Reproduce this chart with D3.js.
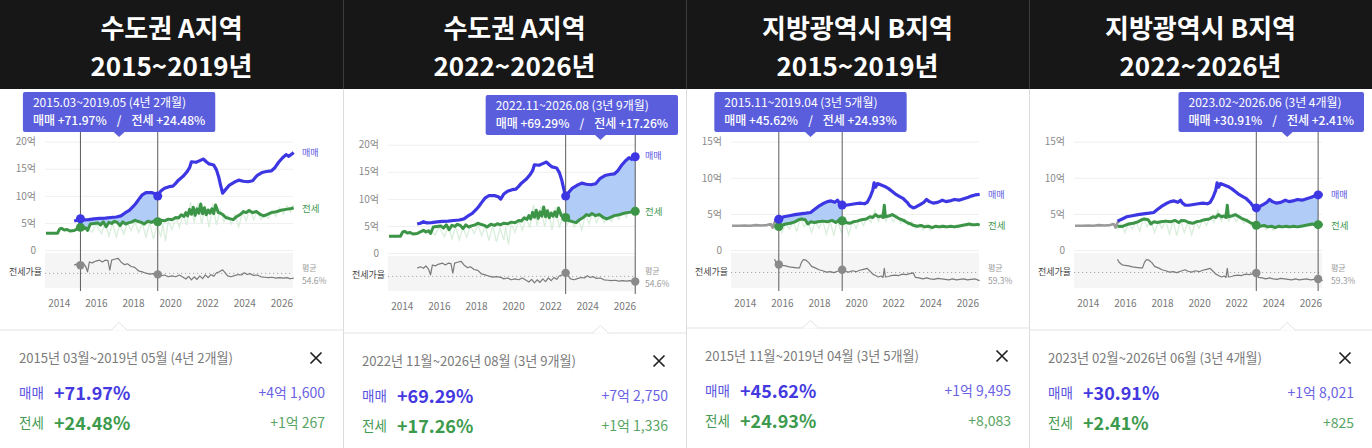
<!DOCTYPE html>
<html><head><meta charset="utf-8">
<script src="https://cdn.jsdelivr.net/npm/d3@7"></script>
<style>
html,body{margin:0;padding:0;background:#fff;}
svg{display:block;font-family:"Noto Sans CJK KR","Noto Sans",sans-serif;}
</style></head><body>
<svg id="c" width="1372" height="448"></svg>
<script>
// ---------------- DATA ----------------
const panelTitles = ["수도권 A지역", "수도권 A지역", "지방광역시 B지역", "지방광역시 B지역"];
const panelYears  = ["2015~2019년", "2022~2026년", "2015~2019년", "2022~2026년"];
const panelRegion = ["A", "A", "B", "B"];
const periodStart = [[2015, 3], [2022, 11], [2015, 11], [2023, 2]];
const periodEnd   = [[2019, 5], [2026, 8], [2019, 4], [2026, 6]];
const salePct    = ["+71.97%", "+69.29%", "+45.62%", "+30.91%"];
const jeonsePct  = ["+24.48%", "+17.26%", "+24.93%", "+2.41%"];
const saleAmt    = ["+4억 1,600", "+7억 2,750", "+1억 9,495", "+1억 8,021"];
const jeonseAmt  = ["+1억 267", "+1억 1,336", "+8,083", "+825"];
const avgRatioA = 54.6, avgRatioB = 59.3;
const yearTicks = [2014, 2016, 2018, 2020, 2022, 2024, 2026];
const yTicksA = [0, 5, 10, 15, 20];
const yTicksB = [0, 5, 10, 15];

// Region A (억원), [year, value]
const saleA = [[2014.83,5.35],[2015.0,5.5],[2015.17,5.78],[2015.35,5.55],[2015.6,5.6],[2015.9,5.75],[2016.2,5.85],[2016.5,5.9],[2016.8,6.0],[2017.1,6.1],[2017.35,6.3],[2017.55,6.8],[2017.8,7.3],[2018.0,8.0],[2018.15,8.6],[2018.3,9.3],[2018.5,10.2],[2018.7,10.6],[2019.0,10.6],[2019.2,10.4],[2019.33,9.94],[2019.5,10.9],[2019.7,11.4],[2019.95,11.7],[2020.15,11.8],[2020.3,12.3],[2020.45,12.9],[2020.7,13.6],[2020.9,14.4],[2021.05,15.2],[2021.15,16.3],[2021.4,16.2],[2021.6,16.5],[2021.8,16.8],[2021.95,16.3],[2022.1,15.9],[2022.35,15.7],[2022.5,14.8],[2022.62,13.5],[2022.72,12.0],[2022.83,10.5],[2023.0,11.2],[2023.2,12.0],[2023.45,12.5],[2023.7,12.9],[2023.95,12.7],[2024.2,12.6],[2024.45,12.8],[2024.7,13.8],[2024.95,14.3],[2025.2,14.5],[2025.45,14.6],[2025.65,15.2],[2025.85,16.2],[2026.05,17.0],[2026.25,17.6],[2026.4,17.3],[2026.58,17.77],[2026.66,18.0]];
const jeonseA = [[2013.31,3.08],[2013.6,3.08],[2013.93,3.1],[2014.05,3.9],[2014.15,4.0],[2014.3,3.7],[2014.45,3.8],[2014.6,3.5],[2014.83,3.6],[2015.0,3.9],[2015.17,4.19],[2015.3,3.9],[2015.45,4.1],[2015.55,3.6],[2015.7,4.8],[2015.9,4.9],[2016.1,5.0],[2016.25,4.6],[2016.4,5.2],[2016.55,4.3],[2016.7,5.1],[2016.85,4.9],[2017.0,5.3],[2017.15,5.1],[2017.3,4.5],[2017.45,5.2],[2017.6,4.8],[2017.75,5.0],[2017.95,5.2],[2018.1,5.5],[2018.25,5.3],[2018.45,5.1],[2018.6,4.8],[2018.8,5.3],[2019.0,5.1],[2019.15,5.4],[2019.33,5.22],[2019.5,5.5],[2019.7,5.4],[2019.9,5.7],[2020.1,5.6],[2020.3,6.0],[2020.45,5.9],[2020.6,6.5],[2020.75,6.2],[2020.85,6.9],[2020.95,6.3],[2021.05,7.5],[2021.15,6.6],[2021.25,7.9],[2021.35,6.4],[2021.45,7.6],[2021.55,6.8],[2021.65,8.5],[2021.75,6.7],[2021.85,7.8],[2021.95,6.5],[2022.05,7.4],[2022.15,6.8],[2022.25,7.6],[2022.35,6.7],[2022.45,8.3],[2022.6,6.9],[2022.72,6.8],[2022.83,6.57],[2023.0,6.0],[2023.2,5.8],[2023.4,5.6],[2023.6,6.2],[2023.8,6.6],[2023.95,7.1],[2024.1,6.9],[2024.25,7.3],[2024.45,6.9],[2024.65,7.1],[2024.85,6.6],[2025.05,6.3],[2025.25,6.6],[2025.45,6.9],[2025.65,7.0],[2025.85,7.2],[2026.05,7.4],[2026.25,7.5],[2026.45,7.6],[2026.58,7.70],[2026.66,7.8]];
const rawA = [[2015.5,4.2],[2015.8,3.3],[2016.0,4.8],[2016.3,3.0],[2016.5,5.0],[2016.7,2.6],[2016.9,4.9],[2017.1,2.4],[2017.3,4.8],[2017.5,2.9],[2017.7,5.0],[2017.9,3.6],[2018.1,5.2],[2018.3,3.2],[2018.5,5.0],[2018.7,2.3],[2018.9,5.1],[2019.1,2.0],[2019.3,4.6],[2019.5,2.4],[2019.6,4.8],[2019.75,1.6],[2019.9,5.4],[2020.1,3.8],[2020.3,6.0],[2020.5,4.2],[2020.7,6.6],[2020.9,4.6],[2021.1,8.9],[2021.3,5.0],[2021.5,8.6],[2021.7,4.8],[2021.9,8.2],[2022.1,4.2],[2022.3,8.5],[2022.5,4.6],[2022.7,7.5],[2022.9,5.2],[2023.1,6.4],[2023.3,4.8],[2023.5,6.5],[2023.7,4.3],[2023.9,7.0],[2024.1,5.4],[2024.3,7.6],[2024.5,5.6],[2024.7,7.2],[2024.9,5.6],[2025.1,6.6],[2025.3,5.8],[2025.5,7.3],[2025.7,6.2],[2025.9,7.8],[2026.1,6.6],[2026.3,8.2],[2026.5,7.0],[2026.66,8.3]];
const ratioA = [[2014.83,73],[2015.0,76],[2015.17,72.6],[2015.3,78],[2015.45,70],[2015.55,58],[2015.65,80],[2015.8,78],[2016.0,82],[2016.2,84],[2016.35,80],[2016.5,84],[2016.65,83],[2016.75,62],[2016.85,84],[2017.0,86],[2017.2,88],[2017.35,80],[2017.55,74],[2017.7,76],[2017.9,70],[2018.1,68],[2018.3,60],[2018.5,58],[2018.7,55],[2018.9,53],[2019.1,54],[2019.33,52.5],[2019.5,49],[2019.7,51],[2019.9,47],[2020.1,49],[2020.3,47],[2020.5,51],[2020.7,46],[2020.85,42],[2021.0,48],[2021.15,40],[2021.3,47],[2021.45,41],[2021.6,49],[2021.75,43],[2021.9,51],[2022.05,45],[2022.2,52],[2022.35,48],[2022.5,56],[2022.65,58],[2022.83,62.5],[2022.95,57],[2023.1,49],[2023.3,47],[2023.5,50],[2023.7,52],[2023.85,51],[2024.0,56],[2024.15,52],[2024.3,54],[2024.5,50],[2024.7,51],[2024.9,47],[2025.1,46],[2025.3,45],[2025.5,46],[2025.7,44],[2025.9,45],[2026.1,44],[2026.3,45],[2026.45,43],[2026.58,43.3],[2026.66,44]];

// Region B
const preB = [[2013.31,3.35],[2013.7,3.35],[2014.0,3.4],[2014.3,3.35],[2014.6,3.45],[2014.9,3.4],[2015.2,3.45],[2015.4,3.6],[2015.5,3.1],[2015.6,3.8],[2015.7,4.0]];
const saleB = [[2015.6,4.0],[2015.83,4.27],[2016.1,4.6],[2016.4,4.75],[2016.7,4.9],[2017.0,5.0],[2017.3,5.1],[2017.55,5.2],[2017.75,5.6],[2017.95,6.0],[2018.2,6.4],[2018.45,6.7],[2018.65,6.8],[2018.85,6.6],[2019.0,6.9],[2019.1,6.5],[2019.25,6.22],[2019.45,6.2],[2019.7,6.3],[2019.95,6.4],[2020.2,6.5],[2020.45,6.4],[2020.6,6.6],[2020.75,7.3],[2020.9,8.3],[2020.97,9.3],[2021.05,8.7],[2021.15,9.2],[2021.35,9.0],[2021.55,8.8],[2021.75,8.5],[2021.95,8.1],[2022.15,7.7],[2022.35,7.4],[2022.55,7.1],[2022.75,6.6],[2022.9,6.1],[2023.08,5.83],[2023.25,6.0],[2023.45,6.3],[2023.65,6.6],[2023.8,7.0],[2023.95,6.7],[2024.15,6.5],[2024.4,6.6],[2024.65,6.9],[2024.85,6.7],[2025.05,6.8],[2025.3,7.0],[2025.55,6.9],[2025.8,7.1],[2026.05,7.3],[2026.25,7.5],[2026.42,7.63],[2026.66,7.7]];
const jeonseB = [[2015.6,3.3],[2015.83,3.24],[2016.0,3.4],[2016.2,3.6],[2016.45,3.7],[2016.7,3.9],[2016.9,4.2],[2017.05,4.3],[2017.25,4.2],[2017.4,3.6],[2017.55,3.9],[2017.75,3.8],[2017.95,3.9],[2018.2,4.0],[2018.45,3.9],[2018.7,4.1],[2018.9,3.8],[2019.05,4.1],[2019.25,4.05],[2019.45,3.8],[2019.65,3.7],[2019.85,3.9],[2020.05,4.0],[2020.3,4.2],[2020.55,4.3],[2020.75,4.6],[2020.9,4.5],[2021.05,4.9],[2021.2,4.6],[2021.35,4.7],[2021.45,4.5],[2021.52,6.2],[2021.58,4.6],[2021.75,4.7],[2021.95,4.9],[2022.15,4.6],[2022.35,4.3],[2022.55,4.1],[2022.75,3.8],[2022.95,3.6],[2023.08,3.42],[2023.3,3.3],[2023.5,3.4],[2023.7,3.2],[2023.9,3.3],[2024.1,3.1],[2024.3,3.3],[2024.5,3.2],[2024.7,3.3],[2024.9,3.2],[2025.1,3.3],[2025.3,3.2],[2025.5,3.3],[2025.7,3.4],[2025.9,3.5],[2026.1,3.6],[2026.25,3.5],[2026.42,3.506],[2026.55,3.55],[2026.66,3.45]];
const rawB = [[2015.6,2.8],[2015.8,3.6],[2016.0,2.4],[2016.2,3.7],[2016.4,2.9],[2016.6,3.9],[2016.8,2.6],[2017.0,4.4],[2017.2,3.2],[2017.4,4.0],[2017.6,2.4],[2017.8,3.9],[2018.0,3.0],[2018.2,4.1],[2018.4,2.2],[2018.6,4.0],[2018.8,2.0],[2019.0,4.2],[2019.2,2.4],[2019.4,3.9],[2019.6,2.1],[2019.8,3.9],[2020.0,3.0],[2020.2,4.3],[2020.4,3.4],[2020.6,4.6],[2020.8,3.8],[2021.0,5.5],[2021.2,4.0],[2021.4,5.2],[2021.6,4.0],[2021.8,5.0],[2022.0,3.9],[2022.2,4.8],[2022.4,3.7],[2022.6,4.3],[2022.8,3.4],[2023.0,3.9],[2023.2,3.0],[2023.4,3.6],[2023.6,2.8],[2023.8,3.6],[2024.0,2.7],[2024.2,3.4],[2024.4,3.0],[2024.6,3.5],[2024.8,3.0],[2025.0,3.4],[2025.2,3.1],[2025.4,3.5],[2025.6,3.2],[2025.8,3.6],[2026.0,3.3],[2026.2,3.7],[2026.4,3.4],[2026.66,3.6]];
const ratioB = [[2015.6,87],[2015.7,80],[2015.83,75.9],[2016.0,74],[2016.2,73],[2016.4,71],[2016.6,70],[2016.8,69],[2016.95,69],[2017.05,80],[2017.15,86],[2017.3,85],[2017.45,80],[2017.6,72],[2017.8,69],[2018.0,65],[2018.2,63],[2018.4,60],[2018.6,61],[2018.8,59],[2019.0,62],[2019.25,65.1],[2019.4,62],[2019.6,60],[2019.8,63],[2020.0,61],[2020.2,64],[2020.4,66],[2020.6,68],[2020.75,62],[2020.9,56],[2021.05,53],[2021.2,50],[2021.35,52],[2021.45,49],[2021.52,68],[2021.58,50],[2021.75,51],[2021.9,53],[2022.1,54],[2022.3,53],[2022.5,56],[2022.7,55],[2022.9,57],[2023.08,58.7],[2023.2,49],[2023.4,48],[2023.6,46],[2023.8,48],[2024.0,46],[2024.2,45],[2024.4,47],[2024.6,46],[2024.8,45],[2025.0,44],[2025.2,46],[2025.4,44],[2025.6,45],[2025.8,46],[2026.0,44],[2026.2,45],[2026.42,45.9],[2026.55,44],[2026.66,42]];

// ---------------- BUILD ----------------
const regions = {
  A: {sale: saleA, jeonse: jeonseA, raw: rawA, ratio: ratioA, pre: null, yTicks: yTicksA, avg: avgRatioA, rMin: 22},
  B: {sale: saleB, jeonse: jeonseB, raw: rawB, ratio: ratioB, pre: preB, yTicks: yTicksB, avg: avgRatioB, rMin: 27}
};
const W = 343;
const chartDy = [0, 3, 0, 0];
const cardDy = [0, 3, -2, 0];
const plotL = 45, plotR = 293;
const C = {sale: "#3d36e3", jeonse: "#3c9447", raw: "#d9eedc", fill: "#a9c8f6", ratio: "#7a7a7a",
  saleTxt: "#5a55e0", jeonseTxt: "#449a52"};

function interp(s, t) {
  if (t <= s[0][0]) return s[0][1];
  for (let i = 1; i < s.length; i++) {
    if (t <= s[i][0]) { const [t0, v0] = s[i-1], [t1, v1] = s[i]; return v0 + (v1 - v0) * (t - t0) / (t1 - t0); }
  }
  return s[s.length-1][1];
}
const pad = n => String(n).padStart(2, "0");

const svg = d3.select("#c");
svg.append("rect").attr("width", 1372).attr("height", 448).attr("fill", "#fff");
svg.append("rect").attr("width", 1372).attr("height", 89).attr("fill", "#171717");

for (let i = 0; i < 4; i++) {
  const R = regions[panelRegion[i]];
  const g = svg.append("g").attr("transform", `translate(${i*W},0)`);

  // title (two lines)
  const tt = g.append("text").attr("text-anchor", "middle").attr("fill", "#fff")
    .attr("font-size", 26).attr("font-weight", 700);
  tt.append("tspan").attr("x", 171.5).attr("y", 38).text(panelTitles[i]);
  tt.append("tspan").attr("x", 171.5).attr("y", 76).text(panelYears[i]);

  const c = g.append("g").attr("transform", `translate(0,${chartDy[i]})`);
  const x = d3.scaleLinear().domain([2014, 2026]).range([58.8, 281.4]);
  const yMax = R.yTicks[R.yTicks.length-1];
  const y = d3.scaleLinear().domain([0, yMax]).range([250, 141.7]);
  const r = d3.scaleLinear().domain([R.rMin, 100]).range([288, 253]);

  // y axis with gridlines
  const ya = c.append("g").attr("transform", `translate(${plotL},0)`)
    .call(d3.axisLeft(y).tickValues(R.yTicks).tickSizeInner(-(plotR - plotL)).tickSizeOuter(0).tickPadding(9)
      .tickFormat(d => d === 0 ? "0" : d + "억"));
  ya.select(".domain").remove();
  ya.selectAll("line").attr("stroke", "#efefef");
  ya.selectAll("text").attr("fill", "#8a8a8a").attr("font-size", 10).attr("font-family", "Noto Sans CJK KR");

  // ratio band
  c.append("rect").attr("x", plotL).attr("y", 253).attr("width", plotR - plotL).attr("height", 35).attr("fill", "#f5f5f5");
  c.append("line").attr("x1", plotL).attr("x2", plotR).attr("y1", r(R.avg)).attr("y2", r(R.avg))
    .attr("stroke", "#aaa").attr("stroke-width", 1).attr("stroke-dasharray", "1.2,2.8");

  const line = d3.line().x(d => x(d[0])).y(d => y(d[1]));
  const rline = d3.line().x(d => x(d[0])).y(d => r(d[1]));

  // raw faint jeonse
  c.append("path").attr("d", line(R.raw)).attr("fill", "none").attr("stroke", C.raw).attr("stroke-width", 1.3);

  // highlight area
  const t0 = periodStart[i][0] + (periodStart[i][1] - 1) / 12;
  const t1 = periodEnd[i][0] + (periodEnd[i][1] - 1) / 12;
  const ts = Array.from(new Set([t0, t1, ...R.sale.map(d => d[0]), ...R.jeonse.map(d => d[0])]))
    .filter(t => t >= t0 - 1e-9 && t <= t1 + 1e-9).sort((a, b) => a - b);
  const areaData = ts.map(t => ({t, hi: interp(R.sale, t), lo: interp(R.jeonse, t)}));
  c.append("path").attr("d", d3.area().x(d => x(d.t)).y0(d => y(d.lo)).y1(d => y(d.hi))(areaData))
    .attr("fill", C.fill).attr("opacity", 0.9);

  if (R.pre) c.append("path").attr("d", line(R.pre)).attr("fill", "none").attr("stroke", "#9a9a9a").attr("stroke-width", 2.6).attr("stroke-linejoin", "round");
  c.append("path").attr("d", line(R.jeonse)).attr("fill", "none").attr("stroke", C.jeonse).attr("stroke-width", 3).attr("stroke-linejoin", "round");
  c.append("path").attr("d", line(R.sale)).attr("fill", "none").attr("stroke", C.sale).attr("stroke-width", 3.2).attr("stroke-linejoin", "round");
  c.append("path").attr("d", rline(R.ratio)).attr("fill", "none").attr("stroke", C.ratio).attr("stroke-width", 1.2).attr("stroke-linejoin", "round");

  // tooltip box
  const px = (x(t0) + x(t1)) / 2;
  const by = 92;
  const tipG = c.append("g");
  const dur = (periodEnd[i][0]*12 + periodEnd[i][1]) - (periodStart[i][0]*12 + periodStart[i][1]);
  const durTxt = `${Math.floor(dur/12)}년 ${dur%12}개월`;
  const tipRect = tipG.append("rect").attr("y", by).attr("height", 40).attr("rx", 2).attr("fill", "#5a5edc");
  tipG.append("path").attr("fill", "#5a5edc").attr("d", `M${px-6},${by+39.5}L${px},${by+45}L${px+6},${by+39.5}Z`);
  const tl = tipG.append("text").attr("fill", "#fff").attr("font-size", 12);
  const tl1 = tl.append("tspan").attr("y", by + 15)
    .text(`${periodStart[i][0]}.${pad(periodStart[i][1])}~${periodEnd[i][0]}.${pad(periodEnd[i][1])} (${durTxt})`);
  const tl2 = tl.append("tspan").attr("y", by + 33).attr("font-weight", 500).text(`매매 ${salePct[i]}`);
  const tl3 = tl.append("tspan").attr("dx", 10).attr("font-weight", 500).text("/");
  const tl4 = tl.append("tspan").attr("dx", 10).attr("font-weight", 500).text(`전세 ${jeonsePct[i]}`);
  tl1.attr("x", 0); tl2.attr("x", 0);
  const w1 = tl1.node().getComputedTextLength();
  const w2 = tl2.node().getComputedTextLength() + tl3.node().getComputedTextLength() + tl4.node().getComputedTextLength() + 20;
  const tw = Math.max(w1, w2) + 20;
  let bx = px - tw / 2;
  if (bx + tw > 335) bx = 335 - tw;
  tipRect.attr("x", bx).attr("width", tw);
  tl1.attr("x", bx + 10); tl2.attr("x", bx + 10);

  // vertical lines
  [t0, t1].forEach(t => {
    c.append("line").attr("x1", x(t)).attr("x2", x(t)).attr("y1", by + 40).attr("y2", 291)
      .attr("stroke", "#5c5c5c").attr("stroke-width", 1);
  });
  // markers
  [t0, t1].forEach(t => {
    c.append("circle").attr("cx", x(t)).attr("cy", r(interp(R.ratio, t))).attr("r", 4.2).attr("fill", "#8a8a8a");
    c.append("circle").attr("cx", x(t)).attr("cy", y(interp(R.jeonse, t))).attr("r", 4.5).attr("fill", C.jeonse);
    c.append("circle").attr("cx", x(t)).attr("cy", y(interp(R.sale, t))).attr("r", 4.5).attr("fill", C.sale);
  });

  // right labels
  const ls = R.sale[R.sale.length-1], lj = R.jeonse[R.jeonse.length-1];
  c.append("text").attr("x", 302).attr("y", y(ls[1]) + 3.5).attr("font-size", 9).attr("fill", C.saleTxt).text("매매");
  c.append("text").attr("x", 302).attr("y", y(lj[1]) + 4).attr("font-size", 9.5).attr("fill", C.jeonseTxt).text("전세");
  c.append("text").attr("x", 42).attr("y", 275).attr("text-anchor", "end").attr("font-size", 9).attr("fill", "#444").text("전세가율");
  c.append("text").attr("x", 302).attr("y", 271).attr("font-size", 8).attr("fill", "#999").text("평균");
  c.append("text").attr("x", 302).attr("y", 284).attr("font-size", 8.5).attr("fill", "#999").text(R.avg.toFixed(1) + "%");

  // x axis
  const xa = c.append("g").attr("transform", `translate(0,293)`)
    .call(d3.axisBottom(x).tickValues(yearTicks).tickFormat(d3.format("d")).tickSize(0).tickPadding(7));
  xa.select(".domain").remove();
  xa.selectAll("text").attr("fill", "#777").attr("font-size", 10).attr("font-family", "Noto Sans CJK KR");

  // card
  const k = g.append("g").attr("transform", `translate(0,${cardDy[i]})`);
  k.append("line").attr("x1", 0).attr("x2", W).attr("y1", 330).attr("y2", 330).attr("stroke", "#e3e3e3");
  k.append("path").attr("d", `M${px-8},330.5L${px},322.5L${px+8},330.5Z`).attr("fill", "#fff").attr("stroke", "none");
  k.append("path").attr("d", `M${px-8},330L${px},322.5L${px+8},330`).attr("fill", "none").attr("stroke", "#e3e3e3");
  k.append("text").attr("x", 19).attr("y", 362.5).attr("font-size", 13.1).attr("fill", "#7a7a7a")
    .text(`${periodStart[i][0]}년 ${pad(periodStart[i][1])}월~${periodEnd[i][0]}년 ${pad(periodEnd[i][1])}월 (${durTxt})`);
  k.append("path").attr("d", "M310.5,352.5L321.5,363.5M321.5,352.5L310.5,363.5").attr("stroke", "#222").attr("stroke-width", 1.7);
  k.append("text").attr("x", 19).attr("y", 398).attr("font-size", 13.5).attr("fill", C.saleTxt).text("매매");
  k.append("text").attr("x", 54).attr("y", 399.5).attr("font-size", 18).attr("font-weight", 700).attr("fill", "#4438e0").text(salePct[i]);
  k.append("text").attr("x", 325).attr("y", 398).attr("text-anchor", "end").attr("font-size", 14).attr("fill", "#6a62e4").text(saleAmt[i]);
  k.append("text").attr("x", 19).attr("y", 428).attr("font-size", 13.5).attr("fill", C.jeonseTxt).text("전세");
  k.append("text").attr("x", 54).attr("y", 429.5).attr("font-size", 18).attr("font-weight", 700).attr("fill", "#3c9a4c").text(jeonsePct[i]);
  k.append("text").attr("x", 325).attr("y", 428).attr("text-anchor", "end").attr("font-size", 14).attr("fill", "#58a463").text(jeonseAmt[i]);
}

// separators
[1, 2, 3].forEach(j => {
  svg.append("line").attr("x1", j*W + 0.5).attr("x2", j*W + 0.5).attr("y1", 0).attr("y2", 89).attr("stroke", "#3d3d3d");
  svg.append("line").attr("x1", j*W + 0.5).attr("x2", j*W + 0.5).attr("y1", 89).attr("y2", 448).attr("stroke", "#dcdcdc");
});
</script>
</body></html>
